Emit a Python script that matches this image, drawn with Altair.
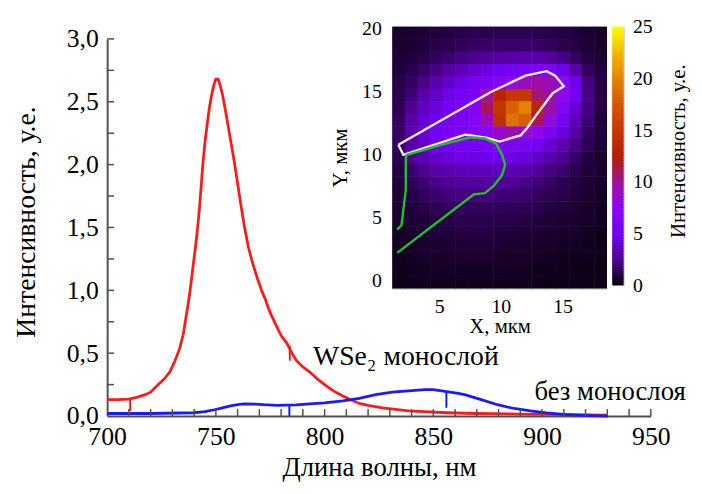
import altair as alt
import pandas as pd
import numpy as np

SERIF = "Liberation Serif, Times New Roman, serif"

# ---------------- main spectra ----------------
red_wl = [700, 705, 710, 714, 717.5, 720, 723.5, 726, 728.8, 731, 733.4, 735, 736.4, 737.5,
          738.6, 739.7, 740.6, 741.5, 742.5, 743.3, 744, 745, 746, 747, 748, 749, 750, 751,
          752, 753, 754, 755, 756.5, 758.4, 760, 761.5, 763, 765, 767, 769, 771, 772.7, 775,
          778, 780, 782.6, 785, 787.1, 790, 793.2, 797, 800.8, 804, 808.4, 812, 815.9, 820,
          826.5, 838.6, 856, 870, 890, 910, 930]
red_int = [0.13, 0.13, 0.135, 0.15, 0.17, 0.19, 0.25, 0.29, 0.35, 0.43, 0.54, 0.65, 0.80, 0.92,
           1.06, 1.22, 1.34, 1.48, 1.66, 1.84, 2.00, 2.18, 2.32, 2.45, 2.55, 2.63, 2.68, 2.68,
           2.63, 2.56, 2.47, 2.37, 2.22, 2.03, 1.85, 1.68, 1.52, 1.34, 1.21, 1.10, 1.00, 0.93, 0.82,
           0.71, 0.64, 0.58, 0.50, 0.44, 0.39, 0.35, 0.29, 0.24, 0.20, 0.16, 0.13, 0.10, 0.085,
           0.065, 0.04, 0.026, 0.02, 0.015, 0.012, 0.008]

blue_wl = [700, 720, 740, 745, 749.3, 753, 756.8, 760, 763, 768, 772, 778, 787, 793.2, 800,
           808.4, 815.9, 823.5, 831.1, 838.6, 846.2, 850, 853.8, 861.4, 864.4, 872, 879.5,
           887.1, 894.7, 902, 909.9, 920, 930.3]
blue_int = [0.02, 0.02, 0.026, 0.035, 0.05, 0.065, 0.08, 0.09, 0.097, 0.095, 0.09, 0.085, 0.088,
            0.097, 0.105, 0.12, 0.14, 0.17, 0.19, 0.20, 0.21, 0.21, 0.20, 0.18, 0.17, 0.13,
            0.09, 0.06, 0.04, 0.025, 0.013, 0.006, 0.0]

# short vertical markers on the curves
red_mark_wl = [710.6, 784.0]
red_mark_top = [0.135, 0.56]
red_mark_bot = [0.04, 0.44]
blue_mark_wl = [783.8, 856.0]
blue_mark_top = [0.085, 0.19]
blue_mark_bot = [0.0, 0.066]

x_labels = [700, 750, 800, 850, 900, 950]
x_minor = list(range(710, 951, 10))
y_labels = [0.0, 0.5, 1.0, 1.5, 2.0, 2.5, 3.0]
y_minor = [0.25, 0.5, 0.75, 1.0, 1.25, 1.5, 1.75, 2.0, 2.25, 2.5, 2.75, 3.0]

curve_labels = ["WSe₂ монослой", "без монослоя"]
curve_label_wl = [794.7, 896.5]
curve_label_int = [0.405, 0.13]
curve_label_size = [28, 27]

# ---------------- inset: PL map ----------------
heat_rows = [  # top row (y ~ 19.7 µm) first, 17 columns from x ~ 1.7 to 18.1 µm
    [0.7, 0.8, 0.9, 1.0, 1.1, 1.2, 1.3, 1.3, 1.4, 1.4, 1.4, 1.3, 1.2, 1.1, 1.0, 0.8, 0.7],
    [0.8, 0.9, 1.0, 1.2, 1.3, 1.5, 1.6, 1.7, 1.8, 1.8, 1.8, 1.7, 1.5, 1.3, 1.1, 0.9, 0.8],
    [0.9, 1.0, 1.2, 1.5, 1.8, 2.1, 2.4, 2.6, 2.8, 2.9, 3.0, 3.0, 2.7, 2.2, 1.6, 1.1, 0.9],
    [1.0, 1.3, 1.7, 2.2, 2.8, 3.4, 4.0, 4.5, 5.0, 5.4, 5.8, 6.0, 5.8, 4.8, 3.0, 1.5, 1.0],
    [1.2, 1.6, 2.3, 3.1, 3.9, 4.6, 5.2, 5.9, 6.8, 8.0, 9.0, 9.5, 9.2, 7.4, 4.8, 2.1, 1.1],
    [1.3, 1.9, 3.0, 3.9, 4.6, 5.2, 6.0, 10.0, 13.0, 15.0, 15.0, 10.5, 9.8, 7.6, 5.0, 2.3, 1.2],
    [1.4, 2.4, 3.6, 4.4, 5.1, 5.7, 6.6, 11.0, 15.0, 18.0, 20.0, 13.0, 9.5, 6.6, 4.1, 2.1, 1.1],
    [1.6, 2.9, 4.0, 4.8, 5.4, 6.0, 6.8, 9.0, 14.0, 19.0, 18.0, 11.0, 8.2, 5.6, 3.4, 1.9, 1.0],
    [1.7, 3.1, 4.2, 5.0, 5.6, 6.0, 6.4, 7.2, 8.6, 9.4, 8.4, 7.6, 6.0, 4.4, 2.8, 1.6, 1.0],
    [1.6, 2.9, 4.0, 4.8, 5.2, 5.5, 5.7, 5.9, 6.1, 6.1, 5.8, 5.1, 4.2, 3.2, 2.2, 1.4, 0.9],
    [1.4, 2.4, 3.3, 3.9, 4.3, 4.6, 4.7, 4.8, 4.8, 4.7, 4.4, 3.8, 3.1, 2.4, 1.7, 1.1, 0.8],
    [1.1, 1.8, 2.4, 2.9, 3.2, 3.4, 3.5, 3.5, 3.5, 3.4, 3.1, 2.7, 2.2, 1.8, 1.3, 1.0, 0.8],
    [1.0, 1.5, 1.9, 2.3, 2.5, 2.7, 2.7, 2.7, 2.6, 2.5, 2.3, 2.0, 1.7, 1.4, 1.1, 0.9, 0.7],
    [0.9, 1.2, 1.5, 1.8, 2.0, 2.1, 2.1, 2.1, 2.0, 1.9, 1.8, 1.6, 1.4, 1.2, 1.0, 0.8, 0.7],
    [0.8, 1.0, 1.2, 1.4, 1.5, 1.6, 1.6, 1.6, 1.5, 1.5, 1.4, 1.3, 1.1, 1.0, 0.9, 0.7, 0.6],
    [0.7, 0.9, 1.0, 1.1, 1.2, 1.3, 1.3, 1.3, 1.2, 1.2, 1.1, 1.0, 0.9, 0.8, 0.8, 0.7, 0.6],
    [0.6, 0.8, 0.9, 1.0, 1.0, 1.1, 1.1, 1.1, 1.0, 1.0, 0.9, 0.9, 0.8, 0.7, 0.7, 0.6, 0.5],
    [0.6, 0.7, 0.8, 0.8, 0.9, 0.9, 0.9, 0.9, 0.9, 0.8, 0.8, 0.7, 0.7, 0.6, 0.6, 0.5, 0.5],
    [0.5, 0.6, 0.7, 0.7, 0.7, 0.8, 0.8, 0.8, 0.7, 0.7, 0.7, 0.6, 0.6, 0.5, 0.5, 0.5, 0.4],
    [0.5, 0.5, 0.6, 0.6, 0.6, 0.6, 0.6, 0.6, 0.6, 0.6, 0.6, 0.5, 0.5, 0.5, 0.4, 0.4, 0.4],
    [0.4, 0.5, 0.5, 0.5, 0.5, 0.5, 0.5, 0.5, 0.5, 0.5, 0.5, 0.5, 0.4, 0.4, 0.4, 0.4, 0.4],
]
map_x_extent = [1.2, 18.6]     # µm
map_y_extent = [-0.63, 20.2]   # µm

white_x = [1.7, 2.1, 7.1, 7.6, 8.9, 9.9, 11.6, 12.1, 12.9, 14.2, 15.1, 14.4, 13.7, 12.0, 9.2, 1.7]
white_y = [10.8, 10.0, 11.6, 11.55, 11.35, 11.05, 11.55, 12.1, 13.2, 14.9, 15.45, 16.3, 16.65, 16.3, 15.0, 10.8]

green_x = [1.6, 1.95, 2.3, 2.3, 2.4, 5.0, 7.6, 8.7, 9.6, 10.1, 10.35, 10.1, 9.4, 8.7, 7.8, 1.6]
green_y = [4.05, 4.4, 7.2, 9.8, 10.0, 10.75, 11.4, 11.3, 10.9, 10.0, 9.2, 8.4, 7.5, 6.95, 6.85, 2.2]

map_x_labels = [5, 10, 15]
map_y_labels = [0, 5, 10, 15, 20]
cbar_labels = [0, 5, 10, 15, 20, 25]

# gnuplot-like palette (black - violet - red - yellow)
palette = ["#000000", "#510096", "#7202f3", "#8c07f3", "#a11096", "#b42000",
           "#c63700", "#d55700", "#e48300", "#f2ba00", "#ffff00"]

# ---------------- data frames ----------------
red_df = pd.DataFrame({"wl": red_wl, "I": red_int})
blue_df = pd.DataFrame({"wl": blue_wl, "I": blue_int})
red_mk = pd.DataFrame({"wl": red_mark_wl, "a": red_mark_top, "b": red_mark_bot})
blue_mk = pd.DataFrame({"wl": blue_mark_wl, "a": blue_mark_top, "b": blue_mark_bot})
xt_df = pd.DataFrame({"wl": x_minor})
yt_df = pd.DataFrame({"v": y_minor})
lab_df = pd.DataFrame({"wl": curve_label_wl, "I": curve_label_int, "t": curve_labels,
                       "s": curve_label_size})

nrow, ncol = len(heat_rows), len(heat_rows[0])
xe = np.linspace(map_x_extent[0], map_x_extent[1], ncol + 1)
ye = np.linspace(map_y_extent[1], map_y_extent[0], nrow + 1)
cells = []
for r, row in enumerate(heat_rows):
    for c, v in enumerate(row):
        cells.append({"x0": xe[c], "x1": min(xe[c + 1] + 0.04, map_x_extent[1]),
                      "y0": max(ye[r + 1] - 0.04, map_y_extent[0]), "y1": ye[r], "v": v})
heat_df = pd.DataFrame(cells)
white_df = pd.DataFrame({"x": white_x, "y": white_y, "o": range(len(white_x))})
green_df = pd.DataFrame({"x": green_x, "y": green_y, "o": range(len(green_x))})

lv = np.arange(0, 25, 0.25)
cb_df = pd.DataFrame({"a": 0, "b": 1, "v0": lv, "v1": np.minimum(lv + 0.4, 25), "v": lv + 0.125})

# ---------------- geometry ----------------
W, H = 550, 381.5
AX = "#505050"

xs = alt.Scale(domain=[700, 950], nice=False, zero=False)
ys = alt.Scale(domain=[0, 3], nice=False, zero=False)
cscale = alt.Scale(domain=[0, 25], range=palette, interpolate="rgb")

x_axis = alt.Axis(values=x_labels, ticks=False, grid=False, domainColor=AX, domainWidth=2,
                  labelFont=SERIF, labelFontSize=26, labelColor="black", labelPadding=8,
                  labelFlush=False, title="Длина волны, нм", titleFont=SERIF, titleFontSize=27,
                  titleFontWeight="normal", titleColor="black", titleY=52, titleBaseline="middle")
y_axis = alt.Axis(values=y_labels, ticks=False, grid=False, domainColor=AX, domainWidth=2,
                  labelExpr="replace(format(datum.value, '.1f'), '.', ',')",
                  labelFont=SERIF, labelFontSize=26, labelColor="black", labelPadding=9,
                  labelFlush=False, title="Интенсивность, у.е.", titleFont=SERIF, titleFontSize=28,
                  titleFontWeight="normal", titleColor="black", titleAngle=270, titleX=-81,
                  titleY=H / 2 - 6, titleAlign="center", titleBaseline="middle")

red_line = alt.Chart(red_df).mark_line(color="#ff1a1a", strokeWidth=2.8).encode(
    x=alt.X("wl:Q", scale=xs, axis=x_axis), y=alt.Y("I:Q", scale=ys, axis=y_axis))
blue_line = alt.Chart(blue_df).mark_line(color="#1a1aff", strokeWidth=2.8).encode(
    x="wl:Q", y="I:Q")
red_marks = alt.Chart(red_mk).mark_rule(color="#ff1a1a", strokeWidth=2).encode(
    x="wl:Q", y="a:Q", y2="b:Q")
blue_marks = alt.Chart(blue_mk).mark_rule(color="#1a1aff", strokeWidth=2).encode(
    x="wl:Q", y="a:Q", y2="b:Q")
x_ticks = alt.Chart(xt_df).mark_rule(color=AX, strokeWidth=1.5).encode(
    x="wl:Q", y=alt.datum(0), y2=alt.datum(0.055))
y_ticks = alt.Chart(yt_df).mark_rule(color=AX, strokeWidth=1.5).encode(
    y="v:Q", x=alt.datum(700), x2=alt.datum(703.2))
labels = alt.Chart(lab_df).mark_text(align="left", baseline="alphabetic", font=SERIF,
                                      color="black").encode(
    x="wl:Q", y="I:Q", text="t:N", size=alt.Size("s:Q", scale=None, legend=None))

main = alt.layer(red_line, blue_line, red_marks, blue_marks, x_ticks, y_ticks, labels)

# inset map
ix = alt.Scale(domain=map_x_extent, range=[288.4, 505.7], nice=False, zero=False)
iy = alt.Scale(domain=map_y_extent, range=[252.5, -12.5], nice=False, zero=False)
ix_axis = alt.Axis(orient="bottom", offset=-129, values=map_x_labels, ticks=False, grid=False,
                   domainColor="#b0b0b0", domainWidth=1, labelFont=SERIF, labelFontSize=20,
                   labelColor="black", labelPadding=8, labelFlush=False,
                   title="X, мкм", titleFont=SERIF, titleFontSize=21, titleFontWeight="normal",
                   titleColor="black", titleY=39, titleBaseline="middle")
iy_axis = alt.Axis(orient="left", offset=-288.4, values=map_y_labels, ticks=False, grid=False,
                   domainColor="#b0b0b0", domainWidth=1, labelFont=SERIF, labelFontSize=20,
                   labelColor="black", labelPadding=11, labelFlush=False,
                   title="Y, мкм", titleFont=SERIF, titleFontSize=21, titleFontWeight="normal",
                   titleColor="black", titleAngle=270, titleX=-52, titleY=120,
                   titleAlign="center", titleBaseline="middle")

heat = alt.Chart(heat_df).mark_rect(strokeWidth=0).encode(
    x=alt.X("x0:Q", scale=ix, axis=ix_axis), x2="x1:Q",
    y=alt.Y("y0:Q", scale=iy, axis=iy_axis), y2="y1:Q",
    color=alt.Color("v:Q", scale=cscale, legend=None))
white = alt.Chart(white_df).mark_line(color="#f6ecf6", strokeWidth=2.4).encode(
    x="x:Q", y="y:Q", order="o:Q")
green = alt.Chart(green_df).mark_line(color="#25c025", strokeWidth=2.4).encode(
    x="x:Q", y="y:Q", order="o:Q")
inset = alt.layer(heat, white, green)

# colour bar
cbx = alt.Scale(domain=[0, 1], range=[511, 522.4], nice=False, zero=False)
cby = alt.Scale(domain=[0, 25], range=[249.5, -12.5], nice=False, zero=False)
cb_axis = alt.Axis(orient="right", offset=522.4 - W, values=cbar_labels, ticks=False, grid=False,
                   domainColor="#b0b0b0", domainWidth=1, labelFont=SERIF, labelFontSize=20,
                   labelColor="black", labelPadding=9, labelFlush=False,
                   title="Интенсивность, у.е.", titleFont=SERIF, titleFontSize=21,
                   titleFontWeight="normal", titleColor="black", titleAngle=270, titleX=56,
                   titleY=113, titleAlign="center", titleBaseline="middle")
cbar = alt.Chart(cb_df).mark_rect(strokeWidth=0).encode(
    x=alt.X("a:Q", scale=cbx, axis=None), x2="b:Q",
    y=alt.Y("v0:Q", scale=cby, axis=cb_axis), y2="v1:Q",
    color=alt.Color("v:Q", scale=cscale, legend=None))

chart = alt.layer(main, inset, cbar).resolve_scale(x="independent", y="independent").properties(
    width=W, height=H,
    padding={"left": 100.3, "top": 28.5, "right": 43.7, "bottom": 66},
    autosize=alt.AutoSizeParams(type="none"),
    background="white",
).configure_view(stroke=None)

chart.save("out.html", embed_options={"renderer": "svg", "actions": False})
